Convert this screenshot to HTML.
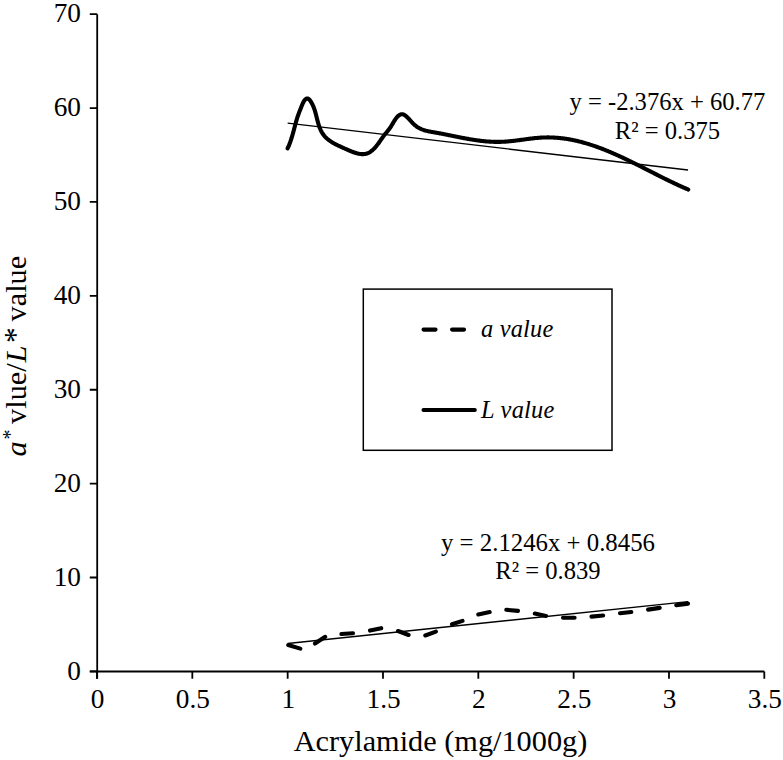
<!DOCTYPE html>
<html><head><meta charset="utf-8"><style>
html,body{margin:0;padding:0;background:#fff;}
svg{display:block;}
text{font-family:"Liberation Serif", serif;fill:#000;}
</style></head><body>
<svg width="783" height="760" viewBox="0 0 783 760">
<rect width="783" height="760" fill="#fff"/>
<path d="M97.2,14.2 V678.8 M89.8,671.5 H764.3" stroke="#000" stroke-width="1.8" fill="none"/>
<path d="M89.8,671.40 H97.2 M89.8,577.51 H97.2 M89.8,483.62 H97.2 M89.8,389.73 H97.2 M89.8,295.84 H97.2 M89.8,201.95 H97.2 M89.8,108.06 H97.2 M89.8,14.17 H97.2 M97.00,671.5 V678.8 M192.33,671.5 V678.8 M287.66,671.5 V678.8 M382.99,671.5 V678.8 M478.32,671.5 V678.8 M573.65,671.5 V678.8 M668.98,671.5 V678.8 M764.31,671.5 V678.8" stroke="#000" stroke-width="1.8" fill="none"/>
<text x="81" y="679.70" text-anchor="end" font-size="27.3">0</text>
<text x="81" y="585.81" text-anchor="end" font-size="27.3">10</text>
<text x="81" y="491.92" text-anchor="end" font-size="27.3">20</text>
<text x="81" y="398.03" text-anchor="end" font-size="27.3">30</text>
<text x="81" y="304.14" text-anchor="end" font-size="27.3">40</text>
<text x="81" y="210.25" text-anchor="end" font-size="27.3">50</text>
<text x="81" y="116.36" text-anchor="end" font-size="27.3">60</text>
<text x="81" y="22.47" text-anchor="end" font-size="27.3">70</text>
<text x="97.60" y="708" text-anchor="middle" font-size="27.3">0</text>
<text x="192.93" y="708" text-anchor="middle" font-size="27.3">0.5</text>
<text x="288.26" y="708" text-anchor="middle" font-size="27.3">1</text>
<text x="383.59" y="708" text-anchor="middle" font-size="27.3">1.5</text>
<text x="478.92" y="708" text-anchor="middle" font-size="27.3">2</text>
<text x="574.25" y="708" text-anchor="middle" font-size="27.3">2.5</text>
<text x="669.58" y="708" text-anchor="middle" font-size="27.3">3</text>
<text x="764.91" y="708" text-anchor="middle" font-size="27.3">3.5</text>
<text x="440.5" y="750.6" text-anchor="middle" font-size="30.3">Acrylamide (mg/1000g)</text>
<text transform="translate(26.00,456.50) rotate(-90)" font-style="italic" font-size="30.3">a</text>
<text transform="translate(16.50,439.50) rotate(-90)" font-size="20">*</text>
<text transform="translate(26.00,431.50) rotate(-90)" font-size="30.3">&#160;vlue/</text>
<text transform="translate(26.00,362.50) rotate(-90)" font-style="italic" font-size="30.3">L</text>
<text transform="translate(25.50,343.00) rotate(-90)" font-size="31.5">*</text>
<text transform="translate(26.00,329.00) rotate(-90)" font-size="30.3">&#160;value</text>
<path d="M287.66,123.14 L688.05,169.99" stroke="#000" stroke-width="1.4" fill="none"/>
<path d="M287.66,643.51 L688.05,601.62" stroke="#000" stroke-width="1.4" fill="none"/>
<path d="M287.60,148.40 L287.96,147.64 L288.30,146.88 L288.64,146.11 L288.97,145.34 L289.28,144.56 L289.59,143.78 L289.89,143.00 L290.18,142.21 L290.46,141.42 L290.73,140.63 L291.00,139.84 L291.26,139.04 L291.52,138.24 L291.76,137.44 L292.01,136.64 L292.25,135.84 L292.48,135.03 L292.71,134.23 L292.94,133.42 L293.16,132.61 L293.38,131.81 L293.60,131.00 L293.81,130.19 L294.03,129.39 L294.24,128.58 L294.45,127.78 L294.66,126.97 L294.88,126.17 L295.09,125.37 L295.31,124.57 L295.52,123.77 L295.74,122.98 L295.96,122.18 L296.19,121.39 L296.41,120.61 L296.65,119.82 L296.88,119.04 L297.12,118.26 L297.37,117.49 L297.62,116.72 L297.87,115.95 L298.14,115.19 L298.41,114.43 L298.69,113.67 L298.97,112.90 L299.27,112.11 L299.58,111.32 L299.90,110.50 L300.23,109.66 L300.57,108.79 L300.92,107.89 L301.29,106.96 L301.67,106.00 L302.07,105.04 L302.48,104.09 L302.91,103.16 L303.35,102.27 L303.81,101.43 L304.28,100.67 L304.77,100.00 L305.27,99.43 L305.78,98.98 L306.31,98.65 L306.84,98.47 L307.38,98.44 L307.92,98.58 L308.46,98.86 L308.99,99.27 L309.52,99.80 L310.03,100.42 L310.54,101.11 L311.02,101.85 L311.48,102.63 L311.92,103.42 L312.33,104.22 L312.72,105.03 L313.08,105.83 L313.42,106.64 L313.75,107.46 L314.05,108.27 L314.34,109.09 L314.62,109.92 L314.88,110.74 L315.13,111.57 L315.37,112.40 L315.60,113.24 L315.82,114.07 L316.04,114.91 L316.25,115.75 L316.46,116.59 L316.67,117.43 L316.88,118.28 L317.10,119.12 L317.31,119.97 L317.53,120.82 L317.76,121.66 L318.00,122.51 L318.24,123.35 L318.49,124.18 L318.75,125.01 L319.03,125.84 L319.31,126.65 L319.61,127.46 L319.91,128.25 L320.24,129.04 L320.57,129.81 L320.93,130.56 L321.30,131.30 L321.69,132.02 L322.09,132.73 L322.52,133.41 L322.96,134.08 L323.43,134.72 L323.91,135.35 L324.41,135.96 L324.93,136.55 L325.47,137.12 L326.03,137.67 L326.60,138.21 L327.18,138.74 L327.79,139.25 L328.40,139.75 L329.03,140.23 L329.68,140.70 L330.34,141.16 L331.01,141.61 L331.69,142.05 L332.38,142.47 L333.09,142.89 L333.80,143.30 L334.53,143.70 L335.27,144.10 L336.01,144.49 L336.76,144.87 L337.52,145.24 L338.29,145.62 L339.07,145.98 L339.85,146.35 L340.64,146.71 L341.43,147.07 L342.23,147.43 L343.03,147.79 L343.83,148.14 L344.64,148.50 L345.45,148.86 L346.26,149.22 L347.08,149.58 L347.89,149.94 L348.71,150.30 L349.53,150.65 L350.35,151.00 L351.16,151.33 L351.98,151.66 L352.80,151.97 L353.61,152.27 L354.43,152.56 L355.24,152.82 L356.05,153.07 L356.85,153.30 L357.66,153.50 L358.46,153.68 L359.25,153.83 L360.05,153.95 L360.84,154.05 L361.62,154.11 L362.40,154.13 L363.17,154.13 L363.93,154.08 L364.69,154.00 L365.45,153.87 L366.19,153.70 L366.93,153.49 L367.66,153.23 L368.39,152.92 L369.10,152.57 L369.81,152.16 L370.50,151.71 L371.19,151.21 L371.86,150.68 L372.52,150.11 L373.17,149.51 L373.81,148.89 L374.44,148.24 L375.05,147.58 L375.64,146.90 L376.22,146.21 L376.78,145.51 L377.33,144.82 L377.86,144.12 L378.38,143.42 L378.88,142.72 L379.38,142.02 L379.86,141.33 L380.34,140.64 L380.82,139.95 L381.29,139.27 L381.76,138.60 L382.22,137.93 L382.69,137.28 L383.16,136.63 L383.64,135.99 L384.12,135.37 L384.60,134.76 L385.09,134.15 L385.58,133.54 L386.08,132.94 L386.58,132.33 L387.08,131.72 L387.58,131.10 L388.08,130.47 L388.58,129.83 L389.08,129.17 L389.58,128.49 L390.08,127.79 L390.57,127.07 L391.06,126.31 L391.54,125.53 L392.02,124.73 L392.51,123.92 L392.99,123.10 L393.48,122.27 L393.97,121.45 L394.47,120.65 L394.98,119.86 L395.51,119.09 L396.04,118.35 L396.59,117.65 L397.15,117.00 L397.73,116.39 L398.34,115.84 L398.96,115.35 L399.60,114.93 L400.26,114.60 L400.93,114.36 L401.60,114.23 L402.28,114.22 L402.95,114.34 L403.62,114.56 L404.29,114.88 L404.95,115.29 L405.60,115.76 L406.25,116.30 L406.88,116.87 L407.51,117.47 L408.13,118.10 L408.74,118.75 L409.35,119.41 L409.95,120.08 L410.55,120.75 L411.16,121.43 L411.76,122.10 L412.37,122.75 L412.99,123.40 L413.61,124.02 L414.25,124.62 L414.90,125.19 L415.56,125.73 L416.23,126.24 L416.92,126.72 L417.61,127.17 L418.32,127.60 L419.04,128.00 L419.77,128.37 L420.50,128.73 L421.25,129.06 L422.01,129.37 L422.77,129.66 L423.54,129.93 L424.32,130.18 L425.11,130.42 L425.90,130.65 L426.70,130.86 L427.50,131.06 L428.31,131.24 L429.12,131.42 L429.94,131.59 L430.76,131.75 L431.59,131.91 L432.41,132.06 L433.24,132.20 L434.07,132.35 L434.90,132.49 L435.73,132.63 L436.57,132.77 L437.40,132.92 L438.23,133.06 L439.06,133.21 L439.89,133.36 L440.72,133.52 L441.55,133.67 L442.38,133.83 L443.21,133.99 L444.04,134.15 L444.86,134.31 L445.69,134.47 L446.52,134.64 L447.35,134.80 L448.17,134.97 L449.00,135.14 L449.82,135.30 L450.65,135.47 L451.48,135.64 L452.30,135.81 L453.13,135.98 L453.95,136.14 L454.77,136.31 L455.60,136.48 L456.42,136.65 L457.24,136.81 L458.07,136.98 L458.89,137.15 L459.71,137.31 L460.53,137.47 L461.35,137.64 L462.18,137.80 L463.00,137.96 L463.82,138.11 L464.64,138.27 L465.46,138.42 L466.28,138.58 L467.10,138.73 L467.92,138.87 L468.74,139.02 L469.55,139.16 L470.37,139.30 L471.19,139.44 L472.01,139.58 L472.83,139.71 L473.65,139.84 L474.47,139.96 L475.28,140.09 L476.10,140.21 L476.92,140.32 L477.74,140.44 L478.56,140.55 L479.38,140.65 L480.20,140.76 L481.01,140.86 L481.83,140.95 L482.65,141.04 L483.47,141.13 L484.29,141.21 L485.11,141.29 L485.94,141.36 L486.76,141.43 L487.58,141.50 L488.40,141.56 L489.22,141.62 L490.05,141.67 L490.87,141.71 L491.70,141.75 L492.52,141.79 L493.35,141.82 L494.17,141.85 L495.00,141.87 L495.83,141.88 L496.66,141.89 L497.49,141.89 L498.32,141.89 L499.15,141.88 L499.98,141.87 L500.82,141.85 L501.65,141.82 L502.49,141.79 L503.32,141.75 L504.16,141.71 L505.00,141.66 L505.84,141.60 L506.68,141.54 L507.52,141.47 L508.36,141.40 L509.21,141.32 L510.05,141.24 L510.89,141.15 L511.74,141.06 L512.59,140.96 L513.43,140.87 L514.28,140.77 L515.13,140.66 L515.97,140.56 L516.82,140.45 L517.67,140.34 L518.52,140.23 L519.37,140.12 L520.22,140.00 L521.07,139.89 L521.92,139.77 L522.77,139.66 L523.62,139.54 L524.47,139.42 L525.32,139.31 L526.17,139.20 L527.02,139.08 L527.86,138.97 L528.71,138.86 L529.56,138.75 L530.41,138.65 L531.26,138.54 L532.11,138.44 L532.95,138.35 L533.80,138.25 L534.65,138.16 L535.49,138.08 L536.34,137.99 L537.18,137.92 L538.02,137.84 L538.87,137.78 L539.71,137.71 L540.55,137.66 L541.39,137.60 L542.23,137.56 L543.07,137.52 L543.91,137.49 L544.74,137.46 L545.58,137.44 L546.41,137.43 L547.24,137.42 L548.08,137.42 L548.91,137.42 L549.74,137.44 L550.57,137.45 L551.40,137.48 L552.22,137.50 L553.05,137.54 L553.88,137.58 L554.70,137.62 L555.53,137.68 L556.35,137.73 L557.17,137.80 L557.99,137.86 L558.81,137.94 L559.63,138.02 L560.45,138.10 L561.27,138.19 L562.08,138.29 L562.90,138.39 L563.72,138.49 L564.53,138.60 L565.34,138.72 L566.16,138.84 L566.97,138.97 L567.78,139.10 L568.59,139.23 L569.40,139.37 L570.21,139.52 L571.01,139.67 L571.82,139.82 L572.63,139.98 L573.43,140.15 L574.24,140.32 L575.04,140.49 L575.84,140.67 L576.64,140.85 L577.45,141.04 L578.25,141.23 L579.05,141.42 L579.85,141.62 L580.64,141.83 L581.44,142.03 L582.24,142.25 L583.03,142.46 L583.83,142.68 L584.62,142.91 L585.42,143.13 L586.21,143.36 L587.00,143.60 L587.79,143.84 L588.59,144.08 L589.38,144.33 L590.17,144.58 L590.95,144.83 L591.74,145.09 L592.53,145.35 L593.32,145.61 L594.10,145.88 L594.89,146.15 L595.67,146.43 L596.46,146.70 L597.24,146.99 L598.03,147.27 L598.81,147.56 L599.59,147.85 L600.37,148.14 L601.15,148.43 L601.93,148.73 L602.71,149.03 L603.49,149.34 L604.27,149.64 L605.05,149.95 L605.82,150.27 L606.60,150.58 L607.38,150.90 L608.15,151.22 L608.93,151.54 L609.70,151.87 L610.47,152.19 L611.25,152.52 L612.02,152.85 L612.79,153.19 L613.56,153.52 L614.34,153.86 L615.11,154.20 L615.88,154.55 L616.65,154.89 L617.41,155.24 L618.18,155.58 L618.95,155.93 L619.72,156.29 L620.49,156.64 L621.25,156.99 L622.02,157.35 L622.78,157.71 L623.55,158.07 L624.31,158.43 L625.08,158.79 L625.84,159.16 L626.61,159.52 L627.37,159.89 L628.13,160.26 L628.89,160.63 L629.66,161.00 L630.42,161.37 L631.18,161.74 L631.94,162.12 L632.70,162.49 L633.46,162.87 L634.22,163.24 L634.98,163.62 L635.74,164.00 L636.49,164.38 L637.25,164.76 L638.01,165.14 L638.77,165.52 L639.52,165.90 L640.28,166.28 L641.04,166.66 L641.79,167.05 L642.55,167.43 L643.30,167.81 L644.06,168.19 L644.81,168.58 L645.57,168.96 L646.32,169.35 L647.08,169.73 L647.83,170.11 L648.58,170.50 L649.34,170.88 L650.09,171.26 L650.84,171.65 L651.59,172.03 L652.34,172.41 L653.10,172.80 L653.85,173.18 L654.60,173.56 L655.35,173.94 L656.10,174.32 L656.85,174.70 L657.60,175.08 L658.35,175.46 L659.10,175.84 L659.85,176.22 L660.60,176.59 L661.35,176.97 L662.10,177.35 L662.85,177.72 L663.60,178.09 L664.34,178.46 L665.09,178.83 L665.84,179.20 L666.59,179.57 L667.34,179.94 L668.08,180.31 L668.83,180.67 L669.58,181.03 L670.33,181.40 L671.07,181.76 L671.82,182.11 L672.57,182.47 L673.31,182.83 L674.06,183.18 L674.81,183.53 L675.55,183.88 L676.30,184.23 L677.05,184.58 L677.79,184.92 L678.54,185.27 L679.29,185.61 L680.03,185.94 L680.78,186.28 L681.53,186.62 L682.27,186.95 L683.02,187.28 L683.76,187.61 L684.51,187.93 L685.26,188.25 L686.00,188.57 L686.75,188.89 L687.49,189.21 L688.24,189.52" stroke="#000" stroke-width="4.1" fill="none" stroke-linecap="round" stroke-linejoin="round"/>
<path d="M288.20,645.00 L300.30,648.60 M315.00,643.50 L325.20,636.80 M341.40,634.00 L353.00,633.20 M370.00,630.60 L381.20,628.20 M398.00,631.00 L408.60,635.00 M425.30,635.50 L435.90,631.60 M452.00,624.30 L462.50,620.90 M478.30,614.50 L489.70,612.10 M506.30,609.80 L518.00,610.90 M534.80,613.60 L546.00,615.90 M563.00,617.80 L574.60,617.80 M591.50,616.60 L603.10,615.50 M620.00,613.30 L631.30,612.00 M648.10,609.60 L659.70,607.90 M676.30,605.30 L688.00,603.60" stroke="#000" stroke-width="4.1" fill="none" stroke-linecap="round"/>
<text x="667.4" y="110" text-anchor="middle" font-size="24.6">y = -2.376x + 60.77</text>
<text x="667.5" y="138.5" text-anchor="middle" font-size="24.6">R² = 0.375</text>
<text x="548" y="550.5" text-anchor="middle" font-size="24.8">y = 2.1246x + 0.8456</text>
<text x="548" y="578.6" text-anchor="middle" font-size="24.6">R² = 0.839</text>
<rect x="363.3" y="289.1" width="248.7" height="161.2" stroke="#000" stroke-width="1.5" fill="none"/>
<path d="M423.55,329.6 H435.55 M452.05,329.6 H464.05" stroke="#000" stroke-width="4.1" stroke-linecap="round" fill="none"/>
<path d="M423.5,410 H474.8" stroke="#000" stroke-width="4.1" stroke-linecap="round" fill="none"/>
<text x="481" y="336.7" font-size="24.4" font-style="italic" letter-spacing="0.2">a value</text>
<text x="481" y="417.8" font-size="24.4" font-style="italic" letter-spacing="0.2">L value</text>
</svg>
</body></html>
